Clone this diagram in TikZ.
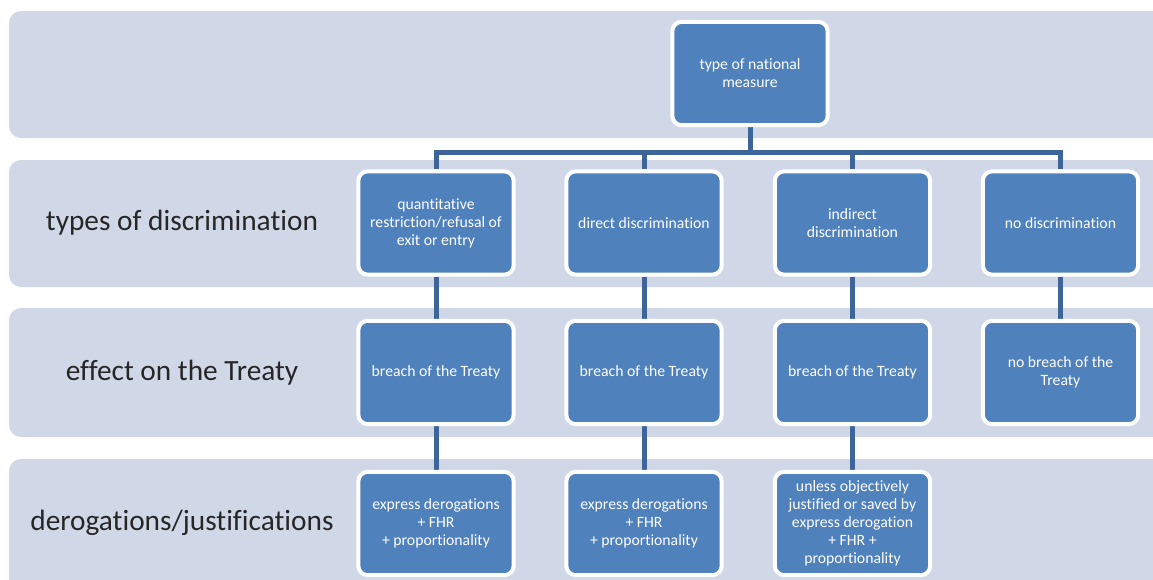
\documentclass[tikz,border=0pt]{standalone}
\usepackage{fontspec}
\setmainfont{Carlito}[Ligatures=NoCommon]
\definecolor{bandfill}{HTML}{D0D8E8}
\definecolor{boxfill}{HTML}{4F81BD}
\definecolor{connline}{HTML}{3D6599}
\pgfdeclarelayer{bands}
\pgfdeclarelayer{lines}
\pgfsetlayers{bands,lines,main}
\tikzset{
  band/.style={fill=bandfill, rounded corners=9pt},
  stepbox/.style={draw=white, line width=3pt, fill=boxfill, rounded corners=7pt,
    minimum width=116.5pt, minimum height=77.5pt, inner sep=2pt,
    text=white, align=center, font=\fontsize{11.8}{13.5}\selectfont},
  rowlabel/.style={text=black!85, font=\fontsize{22}{26}\selectfont},
  conn/.style={draw=connline, line width=3.75pt, line join=miter}
}
\begin{document}
\begin{tikzpicture}[x=0.75pt,y=-0.75pt]
\useasboundingbox (0,0) rectangle (1153,579);
\clip (0,0) rectangle (1153,579);

% horizontal bands behind each level
\begin{pgfonlayer}{bands}
  \fill[band] (9,11) rectangle (1180,138);
  \fill[band] (9,160) rectangle (1180,287);
  \fill[band] (9,308) rectangle (1180,437);
  \fill[band] (9,459) rectangle (1180,600);
\end{pgfonlayer}

% level labels
\node[rowlabel] (lab1) at (182,223) {types of discrimination};
\node[rowlabel] (lab2) at (182,373) {effect on the Treaty};
\node[rowlabel] (lab3) at (182,523) {derogations/justifications};

% root
\node[stepbox] (root) at (750,73.5) {type of national\\measure};

% types of discrimination
\node[stepbox] (qr) at (436,223) {quantitative\\restriction/refusal of\\exit or entry};
\node[stepbox] (dd) at (644,223) {direct discrimination};
\node[stepbox] (id) at (852.5,223) {indirect\\discrimination};
\node[stepbox] (nd) at (1060.5,223) {no discrimination};

% effect on the Treaty
\node[stepbox] (qrb) at (436,372.5) {breach of the Treaty};
\node[stepbox] (ddb) at (644,372.5) {breach of the Treaty};
\node[stepbox] (idb) at (852.5,372.5) {breach of the Treaty};
\node[stepbox] (ndb) at (1060.5,372.5) {no breach of the\\Treaty};

% derogations/justifications
\node[stepbox] (qrj) at (436,523.5) {express derogations\\+ FHR\\+ proportionality};
\node[stepbox] (ddj) at (644,523.5) {express derogations\\+ FHR\\+ proportionality};
\node[stepbox] (idj) at (852.5,523.5) {unless objectively\\justified or saved by\\express derogation\\+ FHR +\\proportionality};

% connectors
\coordinate (bus) at (750,152);
\begin{pgfonlayer}{lines}
  \draw[conn] (root.south) -- (bus);
  \draw[conn] (qr.north) -- (qr.north |- bus) -- (nd.north |- bus) -- (nd.north);
  \draw[conn] (dd.north) -- (dd.north |- bus);
  \draw[conn] (id.north) -- (id.north |- bus);
  \draw[conn] (qr.south) -- (qrb.north);
  \draw[conn] (dd.south) -- (ddb.north);
  \draw[conn] (id.south) -- (idb.north);
  \draw[conn] (nd.south) -- (ndb.north);
  \draw[conn] (qrb.south) -- (qrj.north);
  \draw[conn] (ddb.south) -- (ddj.north);
  \draw[conn] (idb.south) -- (idj.north);
\end{pgfonlayer}
\end{tikzpicture}
\end{document}
